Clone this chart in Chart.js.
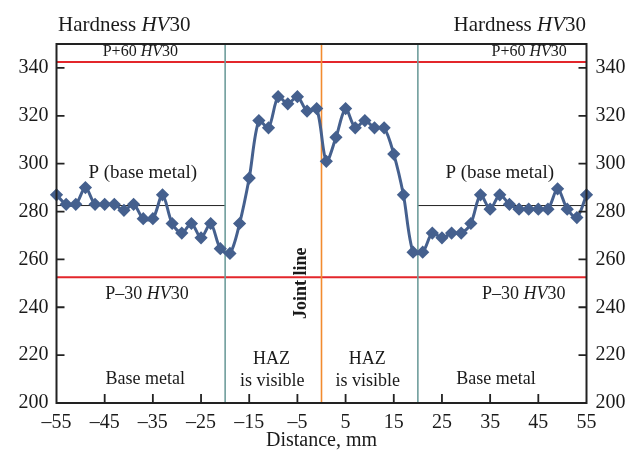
<!DOCTYPE html>
<html>
<head>
<meta charset="utf-8">
<script src="https://cdn.jsdelivr.net/npm/chart.js@4.4.0/dist/chart.umd.min.js"></script>
<style>
  html, body { margin: 0; padding: 0; background: #fff; }
  #wrap { width: 629px; height: 455px; }
</style>
</head>
<body>
<div id="wrap"><canvas id="hardnessChart"></canvas></div>
<script>
// DATA
const distance = [-55, -53, -51, -49, -47, -45, -43, -41, -39, -37, -35, -33, -31, -29,
  -27, -25, -23, -21, -19, -17, -15, -13, -11, -9, -7, -5, -3, -1,
  1, 3, 5, 7, 9, 11, 13, 15, 17, 19, 21, 23, 25, 27,
  29, 31, 33, 35, 37, 39, 41, 43, 45, 47, 49, 51, 53, 55]
const hardness = [287, 283, 283, 290, 283, 283, 283, 280.5, 283, 277, 277, 287, 275, 271,
  275, 269, 275, 264.5, 262.5, 275, 294, 318, 315, 328, 325, 328, 322, 323,
  301, 311, 323, 315, 318, 315, 315, 304, 287, 263, 263, 271, 269, 271,
  271, 275, 287, 281, 287, 283, 281, 281, 281, 281, 289.5, 281, 277.5, 287]

const xTicks = [-55, -45, -35, -25, -15, -5, 5, 15, 25, 35, 45, 55]
const yTicks = [200, 220, 240, 260, 280, 300, 320, 340]

const baseLevel = 282.5       // P (base metal)
const upperLimit = 342.5      // P+60 HV30
const lowerLimit = 252.5      // P-30 HV30
const hazBounds = [-20, 20]
const jointLine = 0

const SERIF = "'Liberation Serif', 'Times New Roman', serif"
Chart.defaults.font.family = SERIF
Chart.defaults.color = '#1a1a1a'

const fmtTick = (v) => v < 0 ? '\u2013' + Math.abs(v) : '' + v

// draw text made of normal/italic parts
drawRich = (ctx, parts, x, y, size, align) => {
  let w = 0
  parts.forEach(p => {
    ctx.font = (p[1] ? 'italic ' : '') + size + 'px ' + SERIF
    w += ctx.measureText(p[0]).width
  })
  let cx = align === 'center' ? x - w / 2 : align === 'right' ? x - w : x
  ctx.textAlign = 'left'
  parts.forEach(p => {
    ctx.font = (p[1] ? 'italic ' : '') + size + 'px ' + SERIF
    ctx.fillText(p[0], cx, y)
    cx += ctx.measureText(p[0]).width
  })
}

const decorations = {
  id: 'decorations',
  beforeDatasetsDraw(chart) {
    const {ctx, chartArea: a, scales: {x, y}} = chart
    ctx.save()
    // limit lines
    ctx.strokeStyle = '#e3262b'
    ctx.lineWidth = 2
    ;[upperLimit, lowerLimit].forEach(v => {
      const py = y.getPixelForValue(v)
      ctx.beginPath(); ctx.moveTo(a.left, py); ctx.lineTo(a.right, py); ctx.stroke()
    })
    // base metal level
    ctx.strokeStyle = '#222'
    ctx.lineWidth = 1
    const pb = y.getPixelForValue(baseLevel)
    ctx.beginPath()
    ctx.moveTo(a.left, pb); ctx.lineTo(x.getPixelForValue(hazBounds[0]), pb)
    ctx.moveTo(x.getPixelForValue(hazBounds[1]), pb); ctx.lineTo(a.right, pb)
    ctx.stroke()
    // HAZ bounds
    ctx.strokeStyle = '#6f9d9c'
    ctx.lineWidth = 1.6
    hazBounds.forEach(v => {
      const px = x.getPixelForValue(v)
      ctx.beginPath(); ctx.moveTo(px, a.top); ctx.lineTo(px, a.bottom); ctx.stroke()
    })
    // joint line
    ctx.strokeStyle = '#f28b2f'
    const pj = x.getPixelForValue(jointLine)
    ctx.beginPath(); ctx.moveTo(pj, a.top); ctx.lineTo(pj, a.bottom); ctx.stroke()
    ctx.restore()
  },
  afterDatasetsDraw(chart) {
    const {ctx, chartArea: a, scales: {x, y}} = chart
    ctx.save()
    // frame
    ctx.strokeStyle = '#222'
    ctx.lineWidth = 2
    ctx.strokeRect(a.left, a.top, a.right - a.left, a.bottom - a.top)
    // inward ticks
    ctx.lineWidth = 1.8
    ctx.beginPath()
    xTicks.forEach(v => {
      if (v === xTicks[0] || v === xTicks[xTicks.length - 1]) return
      const px = x.getPixelForValue(v)
      ctx.moveTo(px, a.bottom); ctx.lineTo(px, a.bottom - 9)
    })
    yTicks.forEach(v => {
      if (v === yTicks[0]) return
      const py = y.getPixelForValue(v)
      ctx.moveTo(a.left, py); ctx.lineTo(a.left + 8, py)
      ctx.moveTo(a.right, py); ctx.lineTo(a.right - 8, py)
    })
    ctx.stroke()

    // texts
    ctx.fillStyle = '#1a1a1a'
    ctx.textBaseline = 'alphabetic'
    const X = (v) => x.getPixelForValue(v)
    const Y = (v) => y.getPixelForValue(v)

    drawRich(ctx, [['Hardness ', false], ['HV', true], ['30', false]], 58, 31, 21, 'left')
    drawRich(ctx, [['Hardness ', false], ['HV', true], ['30', false]], 586, 31, 21, 'right')

    drawRich(ctx, [['P+60 ', false], ['HV', true], ['30', false]], X(-37.6), 56, 16, 'center')
    drawRich(ctx, [['P+60 ', false], ['HV', true], ['30', false]], X(43.1), 56, 16, 'center')

    drawRich(ctx, [['P (base metal)', false]], X(-37.1), Y(294), 19, 'center')
    drawRich(ctx, [['P (base metal)', false]], X(37), Y(294), 19, 'center')

    drawRich(ctx, [['P\u201330 ', false], ['HV', true], ['30', false]], X(-36.2), Y(243.6), 18, 'center')
    drawRich(ctx, [['P\u201330 ', false], ['HV', true], ['30', false]], X(42), Y(243.6), 18, 'center')

    drawRich(ctx, [['Base metal', false]], X(-36.6), Y(208), 18, 'center')
    drawRich(ctx, [['Base metal', false]], X(36.2), Y(208), 18, 'center')

    drawRich(ctx, [['HAZ', false]], X(-10.4), Y(216.5), 18, 'center')
    drawRich(ctx, [['is visible', false]], X(-10.2), Y(207.3), 18, 'center')
    drawRich(ctx, [['HAZ', false]], X(9.5), Y(216.5), 18, 'center')
    drawRich(ctx, [['is visible', false]], X(9.6), Y(207.3), 18, 'center')

    // joint line label, rotated
    ctx.translate(X(-4.1), Y(250))
    ctx.rotate(-Math.PI / 2)
    ctx.font = 'bold 18px ' + SERIF
    ctx.textAlign = 'center'
    ctx.textBaseline = 'middle'
    ctx.fillText('Joint line', 0, 0)
    ctx.restore()
  }
}

const ctx = document.getElementById('hardnessChart').getContext('2d')

new Chart(ctx, {
  type: 'line',
  data: {
    datasets: [{
      label: 'Hardness',
      data: distance.map((d, i) => ({x: d, y: hardness[i]})),
      borderColor: '#45608e',
      backgroundColor: '#45608e',
      borderWidth: 3,
      pointStyle: 'rectRot',
      pointRadius: 4.5,
      pointHoverRadius: 4.5,
      tension: 0.3,
      clip: false,
    }]
  },
  options: {
    responsive: true,
    maintainAspectRatio: false,
    animation: false,
    events: [],
    layout: { padding: { top: 44, left: 0, right: 0, bottom: 0 } },
    plugins: {
      legend: { display: false },
      tooltip: { enabled: false },
    },
    scales: {
      x: {
        type: 'linear',
        min: -55,
        max: 55,
        afterBuildTicks: (s) => { s.ticks = xTicks.map(v => ({value: v})) },
        afterFit: (s) => { s.height = 52 },
        grid: { display: false, drawTicks: false },
        border: { display: false },
        ticks: { font: { size: 20 }, color: '#1a1a1a', padding: 8, maxRotation: 0, autoSkip: false, callback: fmtTick },
        title: { display: true, text: 'Distance, mm', font: { size: 20 }, color: '#1a1a1a', padding: { top: 0, bottom: 2 } },
      },
      y: {
        position: 'left',
        min: 200,
        max: 350,
        afterBuildTicks: (s) => { s.ticks = yTicks.map(v => ({value: v})) },
        afterFit: (s) => { s.width = 56.5 },
        grid: { display: false, drawTicks: false },
        border: { display: false },
        ticks: { font: { size: 20 }, color: '#1a1a1a', padding: 8, autoSkip: false },
      },
      y2: {
        position: 'right',
        min: 200,
        max: 350,
        afterBuildTicks: (s) => { s.ticks = yTicks.map(v => ({value: v})) },
        afterFit: (s) => { s.width = 42.5 },
        grid: { display: false, drawTicks: false },
        border: { display: false },
        ticks: { font: { size: 20 }, color: '#1a1a1a', padding: 9, autoSkip: false },
      }
    }
  },
  plugins: [decorations]
});
</script>
</body>
</html>
